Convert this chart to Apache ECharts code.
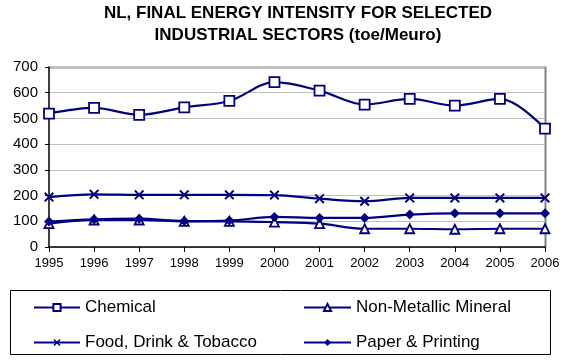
<!DOCTYPE html>
<html>
<head>
<meta charset="utf-8">
<script src="https://cdn.jsdelivr.net/npm/echarts@6/dist/echarts.min.js"></script>
<style>
  html, body { margin: 0; padding: 0; background: #fff; }
  #chart { width: 567px; height: 360px; }
</style>
</head>
<body>
<div id="chart"></div>
<script>
const years = ['1995', '1996', '1997', '1998', '1999', '2000', '2001', '2002', '2003', '2004', '2005', '2006']
const chemical = [519, 541, 514, 543, 568, 641, 608, 554, 576, 550, 576, 460]
const nonMetallic = [91, 105, 105, 100, 100, 97, 91, 71, 71, 69, 71, 71]
const foodDrink = [194, 205, 203, 203, 203, 202, 188, 178, 191, 191, 191, 191]
const paperPrinting = [99, 108, 110, 101, 103, 117, 113, 113, 126, 131, 131, 131]

const navy = '#000080'
const font = 'Liberation Sans, Arial, sans-serif'
const crossPath = 'path://M0,1.4L1.4,0L5,3.6L8.6,0L10,1.4L6.4,5L10,8.6L8.6,10L5,6.4L1.4,10L0,8.6L3.6,5Z'

function makeSeries(name, data, symbol, size, fill) {
  return {
    name,
    type: 'line',
    data,
    smooth: 0.35,
    symbol,
    symbolSize: size,
    showAllSymbol: true,
    lineStyle: { color: navy, width: 2.2 },
    itemStyle: { color: fill, borderColor: navy, borderWidth: fill === '#fff' ? 1.8 : 0 },
    emphasis: { disabled: true },
    z: 3,
  }
}

const legendBase = {
  orient: 'vertical',
  top: 299,
  padding: 0,
  itemHeight: 9,
  itemGap: 18,
  selectedMode: false,
  textStyle: { color: '#000', fontSize: 17, fontFamily: font },
}

const chart = echarts.init(document.getElementById('chart'))
chart.setOption({
  animation: false,
  title: {
    text: 'NL, FINAL ENERGY INTENSITY FOR SELECTED\nINDUSTRIAL SECTORS (toe/Meuro)',
    left: 293,
    textAlign: 'center',
    top: -3,
    textStyle: {
      fontFamily: font,
      fontSize: 17,
      fontWeight: 'bold',
      color: '#000',
      lineHeight: 22,
    },
  },
  grid: { left: 49, right: 22, top: 67, bottom: 113 },
  xAxis: {
    type: 'category',
    data: years,
    boundaryGap: false,
    axisLine: { lineStyle: { color: '#000', width: 1.5 } },
    axisTick: { show: true, length: 5, lineStyle: { color: '#000' } },
    axisLabel: { color: '#000', fontSize: 13, margin: 10, fontFamily: font },
    splitLine: { show: false },
  },
  yAxis: {
    type: 'value',
    min: 0,
    max: 700,
    interval: 100,
    axisLine: { show: true, lineStyle: { color: '#000', width: 1.5 } },
    axisTick: { show: true, length: 4, lineStyle: { color: '#000' } },
    axisLabel: { color: '#000', fontSize: 15, margin: 11, fontFamily: font },
    splitLine: { lineStyle: { color: '#c0c0c0', width: 1 } },
  },
  legend: [
    Object.assign({}, legendBase, { data: ['Chemical', 'Food, Drink & Tobacco'], left: 33, itemWidth: 46 }),
    Object.assign({}, legendBase, { data: ['Non-Metallic Mineral', 'Paper & Printing'], left: 303, itemWidth: 47 }),
  ],
  graphic: [
    {
      type: 'rect',
      shape: { x: 10.5, y: 290.5, width: 540, height: 64 },
      style: { fill: 'none', stroke: '#000', lineWidth: 1 },
      silent: true,
    },
    {
      type: 'polyline',
      shape: { points: [[49, 67.5], [545.5, 67.5], [545.5, 247]] },
      style: { fill: 'none', stroke: '#808080', lineWidth: 2 },
      silent: true,
    },
  ],
  series: [
    makeSeries('Chemical', chemical, 'rect', 10, '#fff'),
    makeSeries('Non-Metallic Mineral', nonMetallic, 'triangle', 9, '#fff'),
    makeSeries('Food, Drink & Tobacco', foodDrink, crossPath, 10, navy),
    makeSeries('Paper & Printing', paperPrinting, 'diamond', 10, navy),
  ],
})
</script>
</body>
</html>
